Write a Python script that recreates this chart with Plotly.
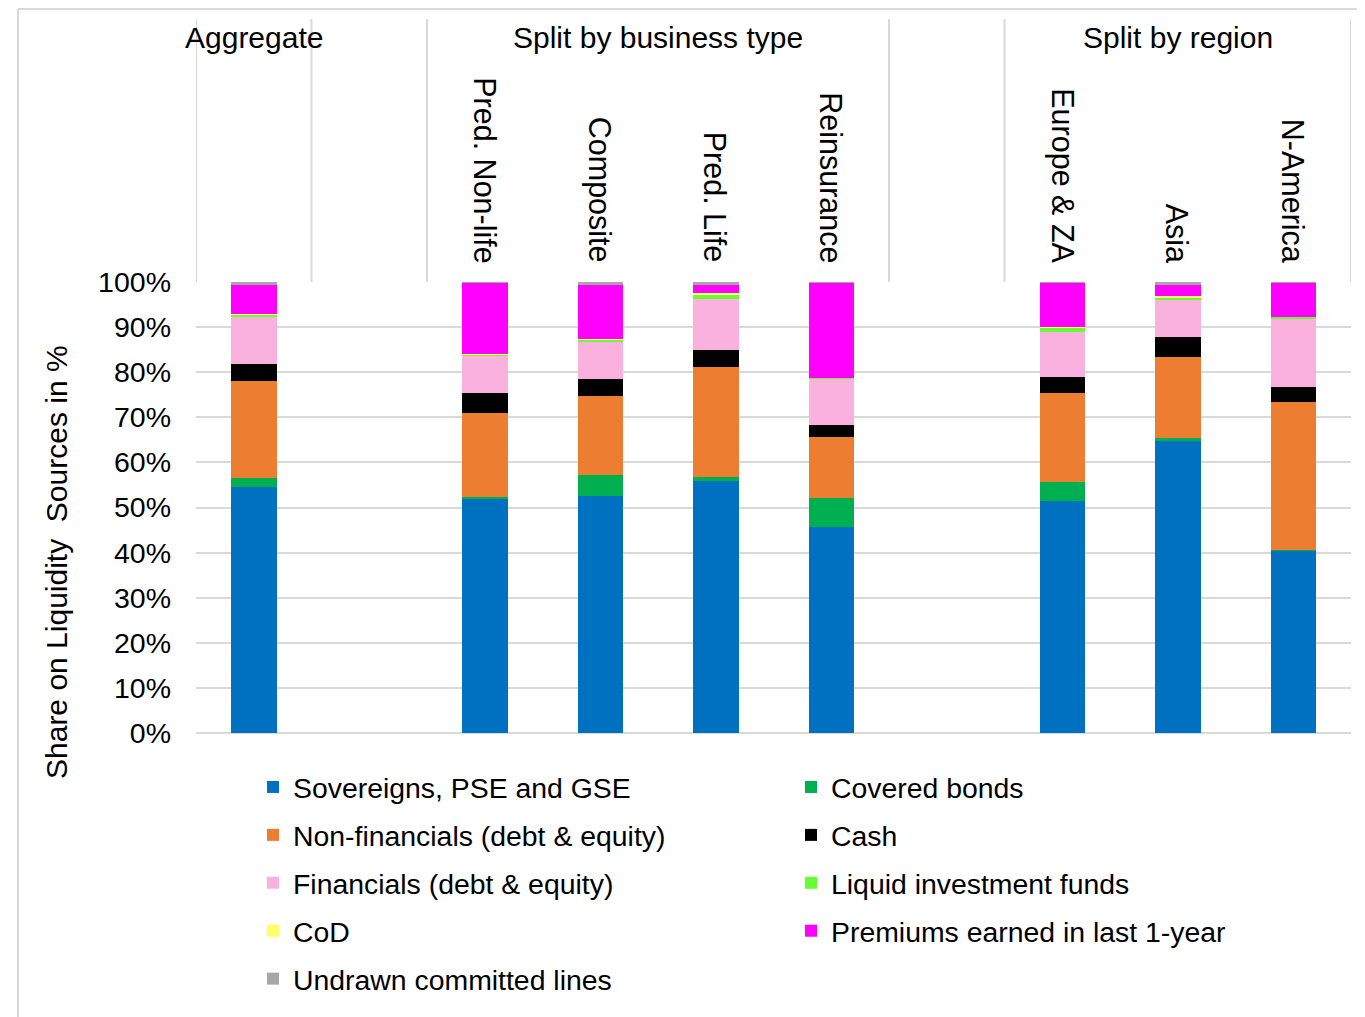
import plotly.graph_objects as go

# ---------------- data ----------------
categories = ["Aggregate", "", "Pred. Non-life", "Composite", "Pred. Life",
              "Reinsurance", "", "Europe & ZA", "Asia", "N-America"]
show_rotated_label = [False, False, True, True, True, True, False, True, True, True]

sovereigns   = [54.5, None, 52.0, 52.6, 55.9, 45.6, None, 51.4, 64.7, 40.5]
covered      = [2.0,  None, 0.3,  4.7,  0.9,  6.4,  None, 4.2,  0.8,  0.1]
nonfin       = [21.5, None, 18.6, 17.4, 24.3, 13.6, None, 19.8, 17.9, 32.8]
cash         = [3.9,  None, 4.5,  3.8,  3.8,  2.7,  None, 3.6,  4.5,  3.4]
financials   = [10.4, None, 8.4,  8.3,  11.3, 10.3, None, 10.0, 8.0,  15.1]
liquid_funds = [0.6,  None, 0.1,  0.4,  0.9,  0.2,  None, 0.9,  0.7,  0.4]
cod          = [0.1,  None, 0.1,  0.2,  0.5,  0.0,  None, 0.1,  0.3,  0.0]
premiums     = [6.4,  None, 15.8, 12.0, 1.8,  21.0, None, 9.8,  2.4,  7.5]
undrawn      = [0.6,  None, 0.2,  0.6,  0.6,  0.2,  None, 0.2,  0.7,  0.2]

series_names = ["Sovereigns, PSE and GSE", "Covered bonds", "Non-financials (debt & equity)",
                "Cash", "Financials (debt & equity)", "Liquid investment funds", "CoD",
                "Premiums earned in last 1-year", "Undrawn committed lines"]
series_values = [sovereigns, covered, nonfin, cash, financials, liquid_funds, cod, premiums, undrawn]
series_colors = ["#0070C0", "#00B050", "#ED7D31", "#000000", "#FBB1DD",
                 "#66FF33", "#FFFF66", "#FF00FF", "#A6A6A6"]
series_legend = ["legend", "legend2", "legend", "legend2", "legend",
                 "legend2", "legend", "legend2", "legend"]

group_titles = ["Aggregate", "Split by business type", "Split by region"]
group_first = [0, 2, 7]
group_last = [0, 5, 9]
header_bounds = [-0.5, 0.5, 1.5, 5.5, 6.5, 9.5]

y_ticks = list(range(0, 101, 10))
y_ticktext = [f"{v}%" for v in y_ticks]

# ---------------- figure ----------------
FONT = "Liberation Sans, Arial, sans-serif"
W, H = 1365, 1017
OFF = 8  # page body margin
PL, PR, PT, PB = 196, 1351, 282, 733  # plot area in page pixels
L, R, T, B = PL - OFF, W + OFF - PR, PT - OFF, H + OFF - PB
plot_w = PR - PL
plot_h = PB - PT


def px_to_paper_x(px):
    return (px - PL) / plot_w


def px_to_paper_y(py):
    return (PB - py) / plot_h


x_idx = list(range(len(categories)))
fig = go.Figure()
for name, vals, col, lg in zip(series_names, series_values, series_colors, series_legend):
    fig.add_trace(go.Bar(
        x=x_idx, y=vals, name=name, marker_color=col, marker_line_width=0,
        legend=lg, legendgroup=name,
    ))

fig.update_layout(
    width=W, height=H,
    margin=dict(l=L, r=R, t=T, b=B),
    barmode="stack", bargap=0.606,
    paper_bgcolor="white", plot_bgcolor="white",
    font=dict(family=FONT, size=28, color="#000000"),
    xaxis=dict(range=[-0.5, 9.5], showticklabels=False, showgrid=False,
               zeroline=False, showline=False, ticks=""),
    yaxis=dict(range=[0, 100], tickvals=y_ticks, ticktext=y_ticktext,
               showgrid=True, gridcolor="#D9D9D9", gridwidth=2,
               zeroline=True, zerolinecolor="#D9D9D9", zerolinewidth=2,
               showline=False, ticks="", ticklabelstandoff=24,
               tickfont=dict(family=FONT, size=28.5, color="#000000")),
    legend=dict(orientation="v", traceorder="grouped", tracegroupgap=8,
                x=px_to_paper_x(253), xanchor="left",
                y=px_to_paper_y(762), yanchor="top",
                font=dict(family=FONT, size=28.4, color="#000000"),
                bgcolor="rgba(0,0,0,0)", itemclick=False),
    legend2=dict(orientation="v", traceorder="grouped", tracegroupgap=8,
                 x=px_to_paper_x(791), xanchor="left",
                 y=px_to_paper_y(762), yanchor="top",
                 font=dict(family=FONT, size=28.4, color="#000000"),
                 bgcolor="rgba(0,0,0,0)", itemclick=False),
)

# y-axis title
fig.add_annotation(text="Share on Liquidity  Sources in %", textangle=-90,
                   xref="paper", yref="paper", x=px_to_paper_x(56), y=px_to_paper_y(562),
                   xanchor="center", yanchor="middle", showarrow=False,
                   font=dict(family=FONT, size=30, color="#000000"))

# header: category labels (rotated)
for i, (c, show) in enumerate(zip(categories, show_rotated_label)):
    if c and show:
        fig.add_annotation(text=c, textangle=90, xref="x", yref="paper",
                           x=i, y=px_to_paper_y(265), xanchor="center", yanchor="bottom",
                           showarrow=False, font=dict(family=FONT, size=30.5, color="#000000"))

# header: group titles
for t, a, b in zip(group_titles, group_first, group_last):
    fig.add_annotation(text=t, xref="x", yref="paper", x=(a + b) / 2, y=px_to_paper_y(37),
                       xanchor="center", yanchor="middle", showarrow=False,
                       font=dict(family=FONT, size=30, color="#000000"))

# header: vertical separators
for xb in header_bounds:
    fig.add_shape(type="line", xref="x", yref="paper", x0=xb, x1=xb,
                  y0=1, y1=px_to_paper_y(19), line=dict(color="#D9D9D9", width=2))

# outer frame (top and left edges)
fig.add_shape(type="line", xref="paper", yref="paper",
              x0=px_to_paper_x(18), x1=px_to_paper_x(1380),
              y0=px_to_paper_y(9), y1=px_to_paper_y(9), line=dict(color="#D9D9D9", width=2))
fig.add_shape(type="line", xref="paper", yref="paper",
              x0=px_to_paper_x(18), x1=px_to_paper_x(18),
              y0=px_to_paper_y(9), y1=px_to_paper_y(1030), line=dict(color="#D9D9D9", width=2))

fig.write_html("out.html")
